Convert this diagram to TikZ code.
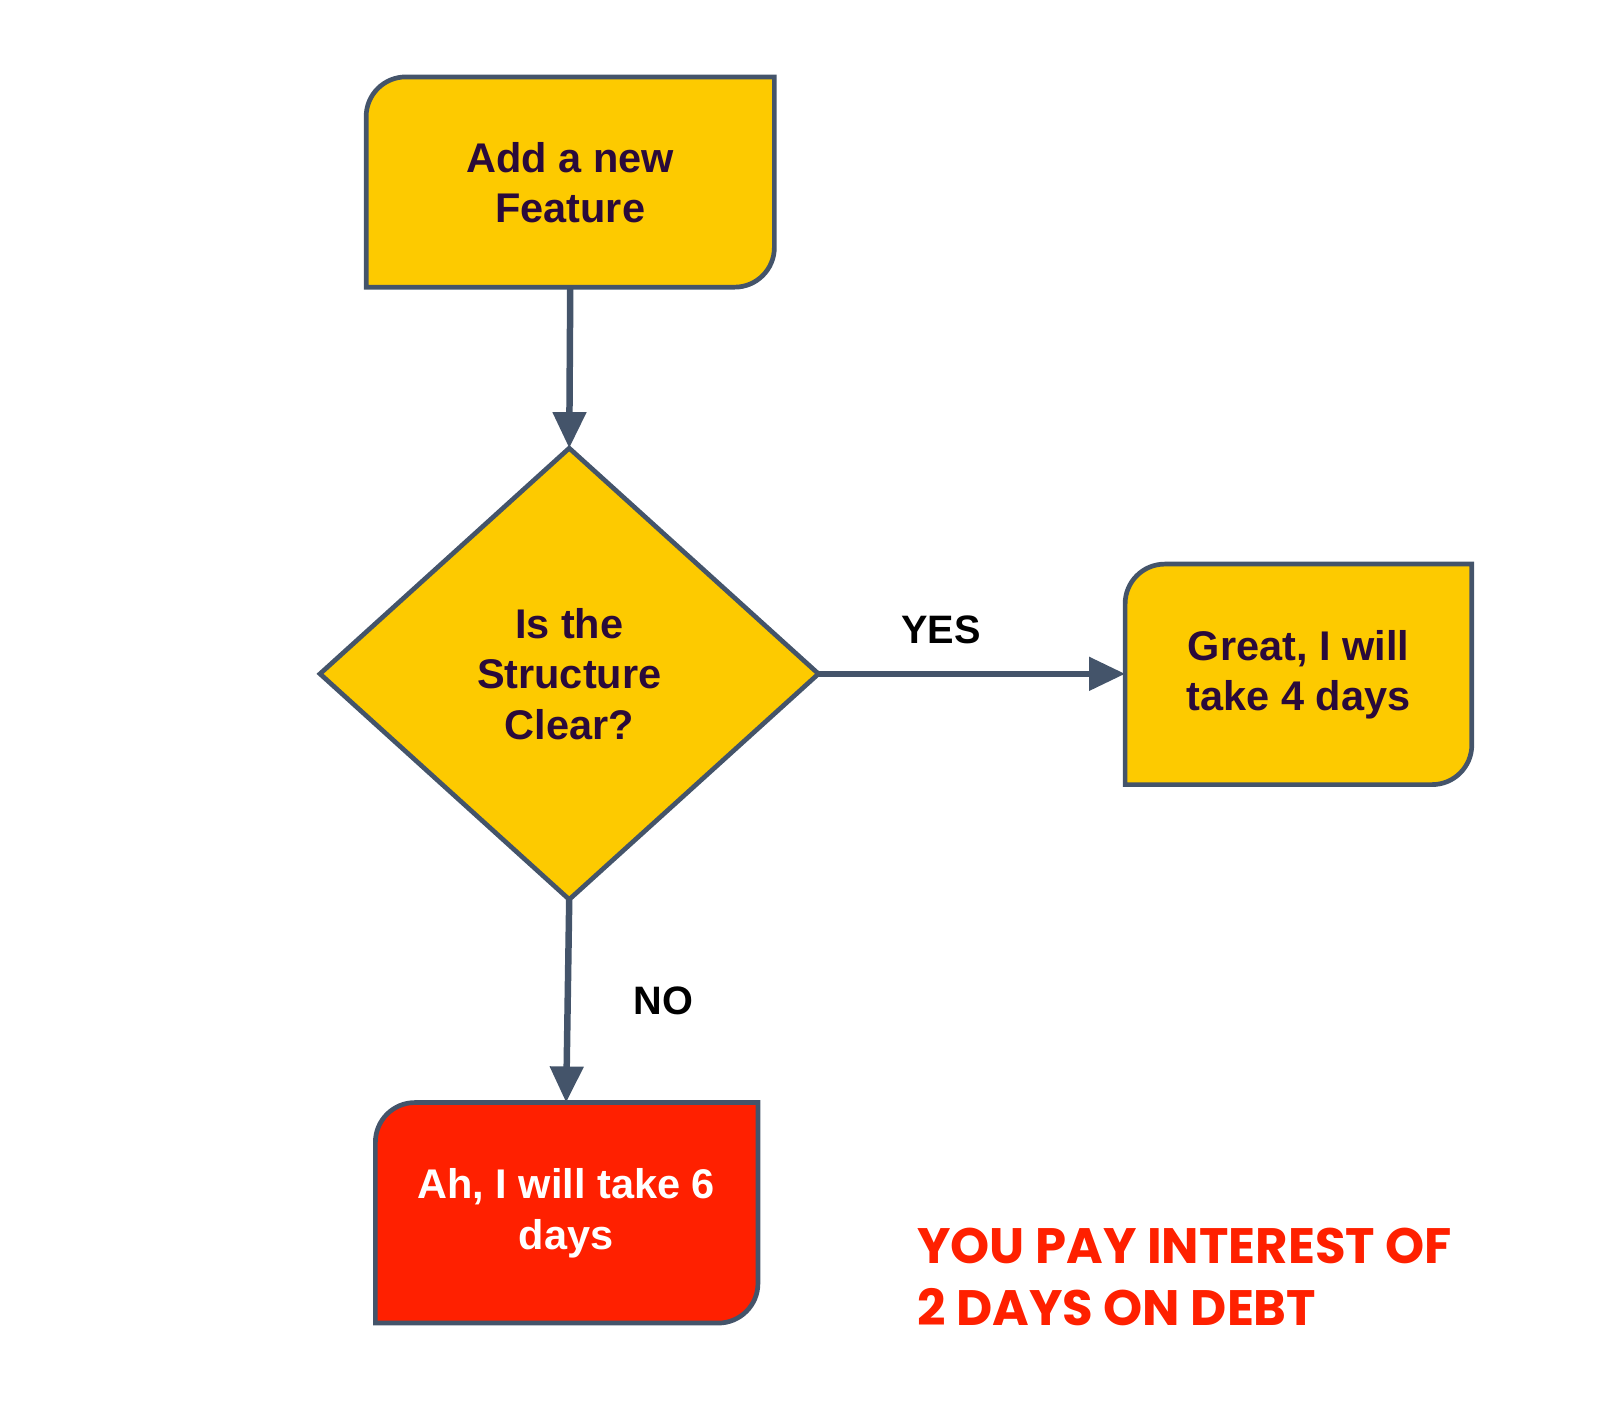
\documentclass[tikz,border=0pt]{standalone}
\usepackage{fontspec}
\setmainfont{Liberation Sans}
\newfontfamily\notefont{Poppins}
\usetikzlibrary{arrows.meta,shapes.geometric}
\definecolor{ylw}{HTML}{FDCA00}
\definecolor{redb}{HTML}{FF2000}
\definecolor{edge}{HTML}{44546A}
\definecolor{txt}{HTML}{2A0A3A}
\tikzset{
 boxshape/.style={draw=edge,line width=1.3pt},
 lbl/.style={font=\fontsize{11.5}{14}\selectfont\bfseries,text=txt,align=center},
 conn/.style={draw=edge,line width=1.8pt,-{Triangle[length=10pt,width=9pt]}},
 edgelbl/.style={font=\fontsize{11}{13}\selectfont\bfseries,text=black}
}
\begin{document}
\begin{tikzpicture}[x=0.01cm,y=-0.01cm]
\useasboundingbox (0,0) rectangle (1560,1371);
% box 1
\filldraw[boxshape,fill=ylw] (556,280) -- (357,280) [rounded corners=11pt] -- (357,75) [sharp corners] -- (755,75) [rounded corners=11pt] -- (755,280) [sharp corners] -- cycle;
\node[lbl] (a) at (556,178) {Add a new\\Feature};
\coordinate (abot) at (556,280);
% diamond
\filldraw[boxshape,fill=ylw] (555,437) -- (798,657) -- (555,877) -- (312,657) -- cycle;
\node[lbl] (d) at (555,657) {Is the\\Structure\\Clear?};
\coordinate (dtop) at (555,437);
\coordinate (dright) at (798,657);
\coordinate (dbot) at (555,877);
% box 2
\filldraw[boxshape,fill=ylw] (1266,765) -- (1097,765) [rounded corners=11pt] -- (1097,550) [sharp corners] -- (1435,550) [rounded corners=11pt] -- (1435,765) [sharp corners] -- cycle;
\node[lbl] (g) at (1266,658) {Great, I will\\take 4 days};
\coordinate (gleft) at (1097,657);
% box 3
\filldraw[boxshape,fill=redb] (552,1290) -- (366,1290) [rounded corners=11pt] -- (366,1075) [sharp corners] -- (739,1075) [rounded corners=11pt] -- (739,1290) [sharp corners] -- cycle;
\node[lbl,text=white] (r) at (552,1183) {Ah, I will take 6\\days};
\coordinate (rtop) at (552,1075);
% connectors
\draw[conn] (abot) -- (dtop);
\draw[conn] (dright) -- node[edgelbl,above=4pt,pos=0.4]{YES} (gleft);
\draw[conn] (dbot) -- node[edgelbl,right=14pt,pos=0.5]{NO} (rtop);
% note
\node[anchor=west,align=left,text=redb,font=\notefont\bfseries\fontsize{13.8}{17}\selectfont] (note) at (882,1245) {YOU PAY INTEREST OF\\2 DAYS ON DEBT};
\end{tikzpicture}
\end{document}
